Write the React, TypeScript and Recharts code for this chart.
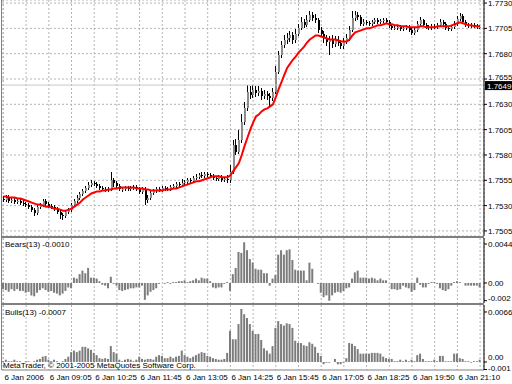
import React from 'react';
import { Bar, CartesianGrid, ComposedChart, Line, ReferenceLine, XAxis, YAxis } from 'recharts';

// 5 minute candles, 6 Jan 2006, from the first bar on the left
const opens = [
  1.7537, 1.7536, 1.7538, 1.7535, 1.7536, 1.7534, 1.7535, 1.7533, 1.7532, 1.7531,
  1.7529, 1.7526, 1.7523, 1.7529, 1.7531, 1.7535, 1.7532, 1.7530, 1.7529, 1.7527,
  1.7524, 1.7521, 1.7520, 1.7524, 1.7526, 1.7531, 1.7535, 1.7538, 1.7541, 1.7544,
  1.7547, 1.7550, 1.7552, 1.7551, 1.7549, 1.7547, 1.7546, 1.7545, 1.7546, 1.7555,
  1.7552, 1.7549, 1.7546, 1.7546, 1.7547, 1.7546, 1.7547, 1.7548, 1.7546, 1.7543,
  1.7546, 1.7536, 1.7538, 1.7542, 1.7544, 1.7546, 1.7545, 1.7547, 1.7546, 1.7546,
  1.7548, 1.7549, 1.7551, 1.7550, 1.7552, 1.7553, 1.7555, 1.7554, 1.7557, 1.7558,
  1.7560, 1.7559, 1.7561, 1.7560, 1.7559, 1.7557, 1.7556, 1.7558, 1.7555, 1.7556,
  1.7555, 1.7563, 1.7590, 1.7583, 1.7595, 1.7613, 1.7626, 1.7642, 1.7639, 1.7644,
  1.7641, 1.7643, 1.7638, 1.7640, 1.7638, 1.7636, 1.7642, 1.7662, 1.7679, 1.7689,
  1.7694, 1.7695, 1.7698, 1.7694, 1.7699, 1.7705, 1.7711, 1.7708, 1.7713, 1.7718,
  1.7715, 1.7713, 1.7703, 1.7699, 1.7695, 1.7692, 1.7694, 1.7690, 1.7694, 1.7691,
  1.7688, 1.7692, 1.7695, 1.7703, 1.7715, 1.7718, 1.7716, 1.7709, 1.7711, 1.7710,
  1.7709, 1.7711, 1.7713, 1.7711, 1.7712, 1.7713, 1.7711, 1.7707, 1.7705, 1.7705,
  1.7706, 1.7704, 1.7705, 1.7706, 1.7703, 1.7700, 1.7703, 1.7709, 1.7713, 1.7708,
  1.7706, 1.7705, 1.7707, 1.7706, 1.7708, 1.7711, 1.7709, 1.7705, 1.7704, 1.7706,
  1.7709, 1.7714, 1.7717, 1.7711, 1.7708, 1.7707, 1.7708, 1.7707, 1.7706,
];
const highs = [
  1.7539, 1.7540, 1.7540, 1.7538, 1.7538, 1.7537, 1.7537, 1.7536, 1.7534, 1.7533,
  1.7531, 1.7528, 1.7531, 1.7533, 1.7537, 1.7537, 1.7534, 1.7532, 1.7531, 1.7529,
  1.7526, 1.7523, 1.7526, 1.7528, 1.7533, 1.7537, 1.7540, 1.7543, 1.7546, 1.7549,
  1.7553, 1.7555, 1.7554, 1.7553, 1.7551, 1.7549, 1.7548, 1.7548, 1.7563, 1.7557,
  1.7554, 1.7551, 1.7548, 1.7549, 1.7549, 1.7549, 1.7550, 1.7550, 1.7548, 1.7548,
  1.7548, 1.7540, 1.7544, 1.7546, 1.7548, 1.7548, 1.7549, 1.7549, 1.7548, 1.7550,
  1.7551, 1.7553, 1.7553, 1.7556, 1.7555, 1.7557, 1.7557, 1.7559, 1.7561, 1.7562,
  1.7563, 1.7563, 1.7563, 1.7562, 1.7561, 1.7559, 1.7560, 1.7560, 1.7558, 1.7560,
  1.7570, 1.7595, 1.7596, 1.7605, 1.7620, 1.7632, 1.7649, 1.7648, 1.7649, 1.7648,
  1.7648, 1.7646, 1.7644, 1.7643, 1.7641, 1.7646, 1.7668, 1.7683, 1.7693, 1.7698,
  1.7700, 1.7702, 1.7701, 1.7704, 1.7709, 1.7716, 1.7714, 1.7718, 1.7722, 1.7721,
  1.7719, 1.7715, 1.7706, 1.7702, 1.7698, 1.7697, 1.7698, 1.7697, 1.7697, 1.7694,
  1.7695, 1.7699, 1.7707, 1.7722, 1.7722, 1.7721, 1.7718, 1.7714, 1.7713, 1.7712,
  1.7713, 1.7715, 1.7715, 1.7714, 1.7715, 1.7715, 1.7713, 1.7709, 1.7707, 1.7708,
  1.7708, 1.7707, 1.7708, 1.7708, 1.7705, 1.7705, 1.7712, 1.7716, 1.7714, 1.7710,
  1.7708, 1.7709, 1.7709, 1.7710, 1.7714, 1.7713, 1.7711, 1.7707, 1.7708, 1.7712,
  1.7717, 1.7720, 1.7719, 1.7713, 1.7710, 1.7710, 1.7710, 1.7709, 1.7708,
];
const lows = [
  1.7534, 1.7534, 1.7533, 1.7533, 1.7532, 1.7532, 1.7531, 1.7530, 1.7529, 1.7527,
  1.7524, 1.7520, 1.7521, 1.7527, 1.7529, 1.7530, 1.7528, 1.7527, 1.7525, 1.7522,
  1.7517, 1.7516, 1.7518, 1.7522, 1.7524, 1.7529, 1.7533, 1.7536, 1.7539, 1.7542,
  1.7545, 1.7548, 1.7549, 1.7547, 1.7545, 1.7544, 1.7543, 1.7543, 1.7544, 1.7548,
  1.7547, 1.7544, 1.7543, 1.7544, 1.7544, 1.7544, 1.7545, 1.7544, 1.7541, 1.7541,
  1.7531, 1.7533, 1.7536, 1.7540, 1.7542, 1.7543, 1.7543, 1.7544, 1.7544, 1.7544,
  1.7546, 1.7547, 1.7548, 1.7548, 1.7550, 1.7551, 1.7552, 1.7552, 1.7555, 1.7556,
  1.7557, 1.7557, 1.7558, 1.7557, 1.7555, 1.7554, 1.7554, 1.7553, 1.7553, 1.7552,
  1.7552, 1.7561, 1.7580, 1.7581, 1.7592, 1.7610, 1.7623, 1.7635, 1.7636, 1.7637,
  1.7638, 1.7634, 1.7635, 1.7634, 1.7627, 1.7633, 1.7640, 1.7660, 1.7676, 1.7686,
  1.7690, 1.7692, 1.7690, 1.7691, 1.7697, 1.7703, 1.7705, 1.7706, 1.7711, 1.7712,
  1.7710, 1.7700, 1.7696, 1.7691, 1.7688, 1.7679, 1.7686, 1.7687, 1.7688, 1.7685,
  1.7685, 1.7690, 1.7693, 1.7701, 1.7712, 1.7713, 1.7707, 1.7707, 1.7708, 1.7707,
  1.7707, 1.7709, 1.7709, 1.7709, 1.7710, 1.7709, 1.7705, 1.7703, 1.7703, 1.7703,
  1.7702, 1.7702, 1.7703, 1.7701, 1.7698, 1.7698, 1.7701, 1.7707, 1.7706, 1.7704,
  1.7703, 1.7703, 1.7704, 1.7704, 1.7706, 1.7707, 1.7703, 1.7702, 1.7702, 1.7704,
  1.7707, 1.7712, 1.7709, 1.7706, 1.7705, 1.7705, 1.7705, 1.7704, 1.7704,
];
const closes = [
  1.7536, 1.7538, 1.7535, 1.7536, 1.7534, 1.7535, 1.7533, 1.7532, 1.7531, 1.7529,
  1.7526, 1.7523, 1.7529, 1.7531, 1.7535, 1.7532, 1.7530, 1.7529, 1.7527, 1.7524,
  1.7521, 1.7520, 1.7524, 1.7526, 1.7531, 1.7535, 1.7538, 1.7541, 1.7544, 1.7547,
  1.7550, 1.7552, 1.7551, 1.7549, 1.7547, 1.7546, 1.7545, 1.7546, 1.7555, 1.7552,
  1.7549, 1.7546, 1.7546, 1.7547, 1.7546, 1.7547, 1.7548, 1.7546, 1.7543, 1.7546,
  1.7536, 1.7538, 1.7542, 1.7544, 1.7546, 1.7545, 1.7547, 1.7546, 1.7546, 1.7548,
  1.7549, 1.7551, 1.7550, 1.7552, 1.7553, 1.7555, 1.7554, 1.7557, 1.7558, 1.7560,
  1.7559, 1.7561, 1.7560, 1.7559, 1.7557, 1.7556, 1.7558, 1.7555, 1.7556, 1.7555,
  1.7563, 1.7590, 1.7583, 1.7595, 1.7613, 1.7626, 1.7642, 1.7639, 1.7644, 1.7641,
  1.7643, 1.7638, 1.7640, 1.7638, 1.7636, 1.7642, 1.7662, 1.7679, 1.7689, 1.7694,
  1.7695, 1.7698, 1.7694, 1.7699, 1.7705, 1.7711, 1.7708, 1.7713, 1.7718, 1.7715,
  1.7713, 1.7703, 1.7699, 1.7695, 1.7692, 1.7694, 1.7690, 1.7694, 1.7691, 1.7688,
  1.7692, 1.7695, 1.7703, 1.7715, 1.7718, 1.7716, 1.7709, 1.7711, 1.7710, 1.7709,
  1.7711, 1.7713, 1.7711, 1.7712, 1.7713, 1.7711, 1.7707, 1.7705, 1.7705, 1.7706,
  1.7704, 1.7705, 1.7706, 1.7703, 1.7700, 1.7703, 1.7709, 1.7713, 1.7708, 1.7706,
  1.7705, 1.7707, 1.7706, 1.7708, 1.7711, 1.7709, 1.7705, 1.7704, 1.7706, 1.7709,
  1.7714, 1.7717, 1.7711, 1.7708, 1.7707, 1.7708, 1.7707, 1.7706, 1.7706,
];
// red moving average
const ma = [
  1.7539, 1.7539, 1.7538, 1.7538, 1.7538, 1.7537, 1.7537, 1.7536, 1.7535, 1.7534,
  1.7533, 1.7532, 1.7531, 1.7531, 1.7530, 1.7529, 1.7529, 1.7528, 1.7527, 1.7527,
  1.7526, 1.7525, 1.7525, 1.7526, 1.7527, 1.7529, 1.7531, 1.7533, 1.7536, 1.7538,
  1.7540, 1.7542, 1.7543, 1.7544, 1.7544, 1.7545, 1.7545, 1.7546, 1.7546, 1.7547,
  1.7547, 1.7548, 1.7548, 1.7548, 1.7548, 1.7548, 1.7548, 1.7547, 1.7547, 1.7547,
  1.7546, 1.7546, 1.7545, 1.7545, 1.7545, 1.7545, 1.7545, 1.7546, 1.7546, 1.7546,
  1.7547, 1.7547, 1.7548, 1.7549, 1.7550, 1.7551, 1.7552, 1.7553, 1.7554, 1.7554,
  1.7555, 1.7556, 1.7557, 1.7558, 1.7559, 1.7559, 1.7559, 1.7558, 1.7558, 1.7558,
  1.7560, 1.7564, 1.7568, 1.7572, 1.7580, 1.7589, 1.7597, 1.7605, 1.7612, 1.7618,
  1.7620, 1.7623, 1.7625, 1.7626, 1.7628, 1.7630, 1.7637, 1.7645, 1.7652, 1.7659,
  1.7666, 1.7670, 1.7674, 1.7677, 1.7681, 1.7684, 1.7687, 1.7691, 1.7694, 1.7696,
  1.7698, 1.7698, 1.7697, 1.7696, 1.7695, 1.7694, 1.7694, 1.7694, 1.7693, 1.7692,
  1.7692, 1.7692, 1.7694, 1.7698, 1.7701, 1.7702, 1.7703, 1.7704, 1.7705, 1.7705,
  1.7706, 1.7707, 1.7708, 1.7708, 1.7709, 1.7710, 1.7709, 1.7709, 1.7708, 1.7708,
  1.7707, 1.7707, 1.7707, 1.7706, 1.7706, 1.7706, 1.7706, 1.7707, 1.7707, 1.7706,
  1.7706, 1.7706, 1.7706, 1.7707, 1.7707, 1.7707, 1.7707, 1.7707, 1.7708, 1.7709,
  1.7710, 1.7711, 1.7710, 1.7709, 1.7708, 1.7708, 1.7707, 1.7707, 1.7707,
];
// Bears Power (13)
const bears = [
  -0.0007, -0.0008, -0.0010, -0.0007, -0.0009, -0.0007, -0.0009, -0.0009, -0.0011, -0.0010,
  -0.0014, -0.0015, -0.0011, -0.0008, -0.0006, -0.0008, -0.0010, -0.0009, -0.0011, -0.0012,
  -0.0014, -0.0012, -0.0009, -0.0005, -0.0006, 0.0006, 0.0005, 0.0010, 0.0014, 0.0011,
  0.0017, 0.0006, 0.0006, 0.0005, 0.0002, -0.0002, -0.0003, -0.0006, 0.0007, -0.0001,
  -0.0003, -0.0008, -0.0009, -0.0008, -0.0007, -0.0006, -0.0006, -0.0005, -0.0005, -0.0003,
  -0.0019, -0.0014, -0.0010, -0.0008, -0.0006, -0.0001, 0, -0.0001, 0.0001, -0.0001,
  0.0001, 0.0001, 0.0002, 0.0002, 0.0003, 0.0001, 0.0002, 0.0003, 0.0005, 0.0003,
  0.0006, 0.0005, 0.0005, 0.0002, -0.0005, -0.0006, -0.0005, -0.0005, -0.0001, 0.0001,
  -0.0009, 0.0010, 0.0017, 0.0035, 0.0034, 0.0046, 0.0037, 0.0027, 0.0023, 0.0016,
  0.0015, 0.0015, 0.0011, 0.0011, -0.0003, 0.0005, 0.0009, 0.0032, 0.0037, 0.0032,
  0.0037, 0.0038, 0.0026, 0.0015, 0.0014, 0.0014, 0.0014, 0.0003, 0.0023, 0.0016,
  0, -0.0001, -0.0011, -0.0016, -0.0014, -0.0020, -0.0014, -0.0011, -0.0010, -0.0011,
  -0.0009, -0.0006, -0.0005, 0.0005, 0.0012, 0.0014, 0.0006, 0.0006, 0.0006, 0.0005,
  0.0006, 0.0005, 0.0003, 0.0005, 0.0003, 0.0003, 0, -0.0007, -0.0007, -0.0008,
  -0.0007, -0.0003, -0.0005, -0.0006, -0.0010, -0.0008, 0.0006, -0.0002, -0.0005, -0.0005,
  -0.0001, 0.0001, 0.0001, -0.0001, -0.0006, -0.0008, -0.0009, -0.0007, -0.0003, 0.0001,
  0.0002, 0.0001, 0, -0.0003, -0.0003, -0.0003, -0.0003, -0.0003, -0.0005,
];
// Bulls Power (13)
const bulls = [
  0.0001, 0.0003, 0.0001, 0.0001, 0.0003, 0.0001, 0.0001, 0, 0.0001, 0.0001,
  0, 0.0001, 0.0003, 0.0004, 0.0007, 0.0008, 0.0003, 0.0001, 0.0003, 0.0001,
  0, 0.0001, 0.0004, 0.0007, 0.0013, 0.0015, 0.0013, 0.0015, 0.0020, 0.0020,
  0.0018, 0.0016, 0.0012, 0.0009, 0.0005, 0.0004, 0.0005, 0.0004, 0.0021, 0.0013,
  0.0011, 0.0003, 0.0001, 0.0003, 0.0004, 0.0003, 0.0001, 0.0003, 0.0007, 0.0004,
  0.0003, 0.0004, 0.0004, 0.0003, 0.0007, 0.0009, 0.0008, 0.0005, 0.0005, 0.0007,
  0.0005, 0.0007, 0.0008, 0.0015, 0.0009, 0.0007, 0.0005, 0.0007, 0.0009, 0.0011,
  0.0013, 0.0012, 0.0008, 0.0007, 0.0005, 0.0004, 0.0003, 0.0003, 0.0004, 0.0012,
  0.0041, 0.0030, 0.0030, 0.0050, 0.0070, 0.0063, 0.0058, 0.0050, 0.0041, 0.0037,
  0.0037, 0.0029, 0.0018, 0.0015, 0.0011, 0.0021, 0.0045, 0.0054, 0.0050, 0.0048,
  0.0051, 0.0050, 0.0045, 0.0028, 0.0025, 0.0025, 0.0022, 0.0021, 0.0026, 0.0024,
  0.0020, 0.0012, 0.0008, -0.0003, -0.0001, -0.0001, 0, 0.0004, -0.0003, -0.0003,
  -0.0001, 0.0005, 0.0025, 0.0024, 0.0021, 0.0017, 0.0011, 0.0011, 0.0011, 0.0011,
  0.0012, 0.0012, 0.0012, 0.0011, 0.0007, 0.0005, 0.0004, 0.0004, 0.0001, 0.0001,
  0.0003, 0.0001, 0.0003, 0.0001, 0.0003, 0.0001, 0.0009, 0.0011, 0.0004, 0.0001,
  0.0001, 0.0001, 0.0003, 0.0001, 0.0008, 0.0008, 0.0001, 0.0001, 0.0001, 0.0011,
  0.0011, 0.0005, 0.0004, 0.0001, 0.0001, -0.0001, 0.0001, 0.0001, 0.0003,
];

const priceTicks = [1.7505, 1.753, 1.7555, 1.758, 1.7605, 1.763, 1.7655, 1.768, 1.7705, 1.773];
const bearsTicks = [-0.002, 0, 0.0044];
const bearsTickLabels = ['-0.002', '0.00', '0.0044'];
const bullsTicks = [-0.001, 0, 0.0066];
const bullsTickLabels = ['-0.001', '0.00', '0.0066'];
const gridBars = [0, 8, 16, 24, 32, 40, 48, 56, 64, 72, 80, 88, 96, 104, 112, 120, 128, 136, 144, 152, 160, 168];
const timeBars = [0, 16, 32, 48, 64, 80, 96, 112, 128, 144, 160];
const timeLabels = [
  '6 Jan 2006', '6 Jan 09:05', '6 Jan 10:25', '6 Jan 11:45', '6 Jan 13:05', '6 Jan 14:25',
  '6 Jan 15:45', '6 Jan 17:05', '6 Jan 18:25', '6 Jan 19:50', '6 Jan 21:10',
];
const lastPrice = 1.7649;
const bearsTitle = 'Bears(13) -0.0010';
const bullsTitle = 'Bulls(13) -0.0007';

const rows = closes.map((close, i) => ({
  i,
  open: opens[i],
  high: highs[i],
  low: lows[i],
  close,
  range: [lows[i], highs[i]],
  ma: ma[i],
  bears: bears[i],
  bulls: bulls[i],
}));

const FONT = "'Liberation Sans Narrow', 'Liberation Sans', Arial, sans-serif";
const W = 512;
const AXIS_W = 28;
const MARGIN = { top: 0, right: 0, bottom: 0, left: 2 };
const GRID = '#b4b4b4';

function Candle(props: any) {
  const { x, y, width, height, payload } = props;
  if (!payload || x == null || y == null) return null;
  const { open, high, low, close } = payload;
  const k = high > low ? height / (high - low) : 0;
  const yo = y + (high - open) * k;
  const yc = y + (high - close) * k;
  const cx = Math.floor(x + width / 2);
  const top = Math.min(yo, yc);
  const h = Math.max(1, Math.abs(yo - yc));
  return (
    <g shapeRendering="crispEdges">
      <line x1={cx + 0.5} x2={cx + 0.5} y1={y} y2={y + height} stroke="#000" />
      <rect x={cx} y={top} width={2} height={h} fill={close >= open ? '#8c8c8c' : '#000'} />
    </g>
  );
}

// labels: null -> price with 4 decimals; shifts nudge a label up or down inside its panel
function valueTick(labels: string[] | null, shifts?: number[]) {
  return (props: any) => {
    const { x, y, payload, index } = props;
    const text = labels ? labels[index] : Number(payload.value).toFixed(4);
    const dy = shifts ? shifts[index] : 0;
    return (
      <text x={x} y={y + 3 + dy} fontSize={8} fontFamily={FONT} fill="#000" textAnchor="start">
        {text}
      </text>
    );
  };
}

function TimeTick(props: any) {
  const { x, y, payload } = props;
  const k = timeBars.indexOf(payload.value);
  if (k < 0) return null;
  return (
    <text x={x + 1} y={y + 10} fontSize={8} fontFamily={FONT} fill="#000" textAnchor="start">
      {timeLabels[k]}
    </text>
  );
}

function PriceTag(props: any) {
  const vb = props.viewBox;
  if (!vb) return null;
  const x = vb.x + vb.width + 1;
  return (
    <g>
      <rect x={x} y={vb.y - 4} width={27} height={9} fill="#000" />
      <text x={x + 2} y={vb.y + 4} fontSize={8} fontFamily={FONT} fill="#fff">
        {props.text}
      </text>
    </g>
  );
}

function PriceChart() {
  return (
    <ComposedChart width={W} height={236} data={rows} margin={MARGIN}>
      <CartesianGrid stroke={GRID} strokeDasharray="2 2" />
      <XAxis dataKey="i" type="category" hide ticks={gridBars} interval={0} padding={{ left: 0, right: 2.5 }} />
      <YAxis
        orientation="right"
        type="number"
        width={AXIS_W}
        domain={[1.75, 1.7733]}
        ticks={priceTicks}
        interval={0}
        allowDataOverflow
        tickSize={3}
        tickMargin={1}
        axisLine={{ stroke: '#000' }}
        tickLine={{ stroke: '#000' }}
        tick={valueTick(null, [0, 0, 0, 0, 0, 0, -2, 0, 0, 0])}
      />
      <ReferenceLine y={lastPrice} stroke="#c8c8c8" label={<PriceTag text={lastPrice.toFixed(4)} />} />
      <Bar dataKey="range" shape={<Candle />} isAnimationActive={false} />
      <Line dataKey="ma" type="linear" stroke="#ff0000" strokeWidth={2} dot={false} activeDot={false} isAnimationActive={false} />
    </ComposedChart>
  );
}

function PowerChart({ dataKey, domain, ticks, labels, shifts, height, withTime }: any) {
  return (
    <ComposedChart width={W} height={height} data={rows} margin={MARGIN}>
      <CartesianGrid stroke={GRID} strokeDasharray="2 2" horizontal={false} />
      <XAxis
        dataKey="i"
        type="category"
        hide={!withTime}
        ticks={gridBars}
        interval={0}
        padding={{ left: 0, right: 2.5 }}
        height={14}
        tickSize={0}
        tickMargin={0}
        tickLine={false}
        axisLine={{ stroke: '#808080' }}
        tick={<TimeTick />}
      />
      <YAxis
        orientation="right"
        type="number"
        width={AXIS_W}
        domain={domain}
        ticks={ticks}
        interval={0}
        allowDataOverflow
        tickSize={3}
        tickMargin={1}
        axisLine={{ stroke: '#000' }}
        tickLine={{ stroke: '#000' }}
        tick={valueTick(labels, shifts)}
      />
      <Bar dataKey={dataKey} fill="#7c7c7c" barSize={2} isAnimationActive={false} />
    </ComposedChart>
  );
}

const label: React.CSSProperties = {
  position: 'absolute',
  fontFamily: FONT,
  fontSize: 8,
  lineHeight: '8px',
  color: '#000',
  whiteSpace: 'nowrap',
};

export default function App() {
  return (
    <div style={{ position: 'absolute', left: 0, top: 0, width: 512, height: 384, background: '#fff', overflow: 'hidden' }}>
      <div style={{ position: 'absolute', left: 0, top: 0 }}>
        <PriceChart />
      </div>
      <div style={{ position: 'absolute', left: 1, top: 236, width: 483, height: 2, background: '#808080' }} />
      <div style={{ position: 'absolute', left: 0, top: 238 }}>
        <PowerChart
          dataKey="bears"
          domain={[-0.00226, 0.00508]}
          ticks={bearsTicks}
          labels={bearsTickLabels}
          shifts={[-3, 0, 0]}
          height={65}
        />
      </div>
      <div style={{ position: 'absolute', left: 1, top: 303, width: 483, height: 2, background: '#808080' }} />
      <div style={{ position: 'absolute', left: 0, top: 305 }}>
        <PowerChart
          dataKey="bulls"
          domain={[-0.00106, 0.00752]}
          ticks={bullsTicks}
          labels={bullsTickLabels}
          shifts={[-1.5, -4.5, 0]}
          height={79}
          withTime
        />
      </div>
      <div style={{ position: 'absolute', left: 1, top: 0, width: 1, height: 370, background: '#808080' }} />
      <div style={{ ...label, left: 5, top: 241 }}>{bearsTitle}</div>
      <div style={{ ...label, left: 5, top: 309 }}>{bullsTitle}</div>
      <div style={{ ...label, left: 3, top: 362 }}>MetaTrader, © 2001-2005 MetaQuotes Software Corp.</div>
    </div>
  );
}
